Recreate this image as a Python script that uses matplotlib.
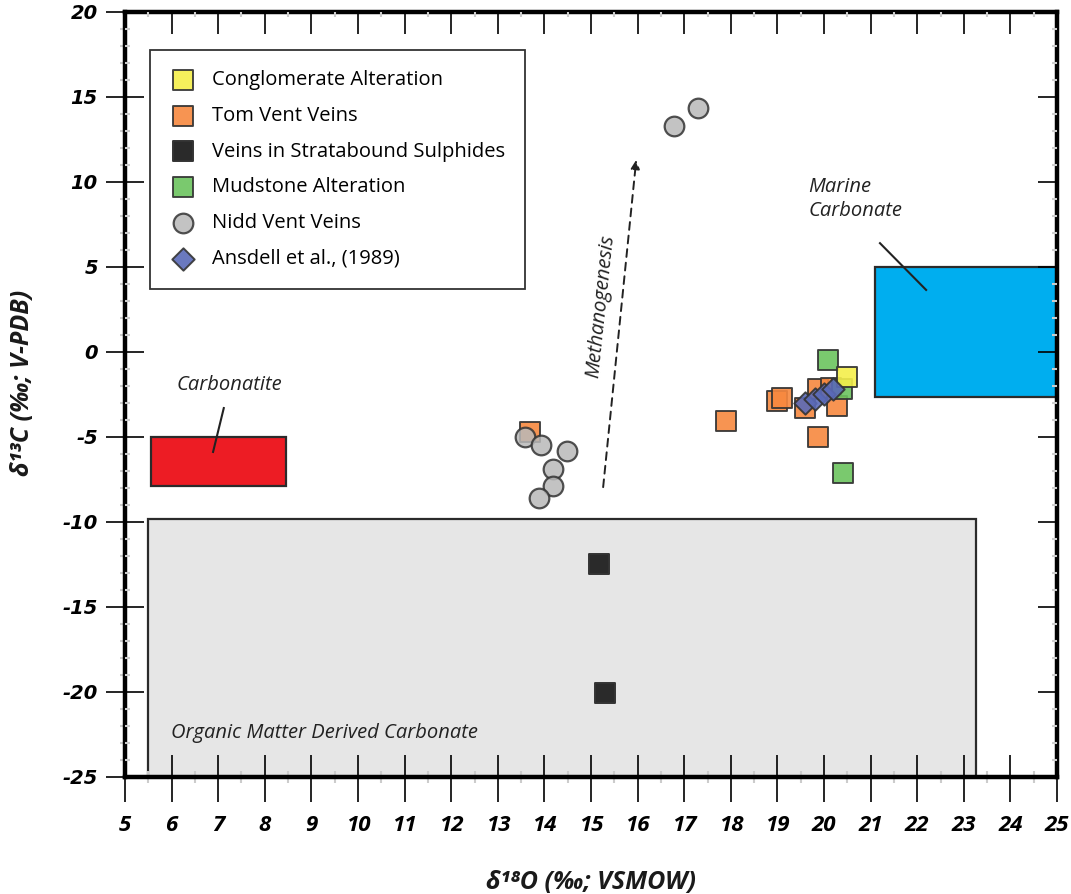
import numpy as np
import matplotlib.pyplot as plt
from matplotlib.patches import Rectangle
from matplotlib.ticker import MultipleLocator

# data
cong_x = [20.5]
cong_y = [-1.5]

tom_x = [13.7, 17.9, 19.0, 19.1, 19.6, 19.87, 19.87, 20.15, 20.28]
tom_y = [-4.7, -4.05, -2.9, -2.7, -3.3, -2.2, -5.0, -2.1, -3.2]

strata_x = [15.17, 15.3]
strata_y = [-12.45, -20.05]

mud_x = [20.09, 20.38, 20.4]
mud_y = [-0.5, -2.2, -7.1]

nidd_x = [16.78, 17.3, 13.58, 13.93, 14.48, 14.18, 14.18, 13.88]
nidd_y = [13.3, 14.35, -5.0, -5.5, -5.8, -6.9, -7.9, -8.6]

ansdell_x = [19.6, 19.8, 20.0, 20.2]
ansdell_y = [-3.0, -2.75, -2.5, -2.2]

# reference fields: (x0, x1, y0, y1)
organic_box = (5.5, 23.25, -25.0, -9.8)
carbonatite_box = (5.55, 8.45, -7.9, -5.0)
marine_box = (21.1, 25.0, -2.65, 5.0)

FONT = ['Open Sans', 'DejaVu Sans']
plt.rcParams['font.family'] = FONT
plt.rcParams['axes.unicode_minus'] = False

fig = plt.figure(figsize=(10.71, 8.94), dpi=100)
rect = [0.1167, 0.1309, 0.8703, 0.8557]
ax = fig.add_axes(rect)


def add_box(b, fc, z=1):
    x0, x1, y0, y1 = b
    ax.add_patch(Rectangle((x0, y0), x1 - x0, y1 - y0, facecolor=fc,
                           edgecolor='#2b2b2b', linewidth=1.6, zorder=z))


add_box(organic_box, '#e6e6e6')
add_box(carbonatite_box, '#ed1c24')
add_box(marine_box, '#00aeef')

ms = 190
ec = '#333333'
h_tom = ax.scatter(tom_x, tom_y, s=ms, marker='s', c='#f7883f', edgecolors=ec,
                   linewidths=1.4, alpha=0.9, zorder=3)
h_mud = ax.scatter(mud_x, mud_y, s=ms, marker='s', c='#6cc35e', edgecolors=ec,
                   linewidths=1.4, alpha=0.9, zorder=3)
h_cong = ax.scatter(cong_x, cong_y, s=ms, marker='s', c='#f4ef4a', edgecolors=ec,
                    linewidths=1.4, alpha=0.9, zorder=3)
h_strata = ax.scatter(strata_x, strata_y, s=ms, marker='s', c='#2a2a2a',
                      edgecolors=ec, linewidths=1.4, zorder=3)
h_nidd = ax.scatter(nidd_x, nidd_y, s=200, marker='o', c='#b9b9b9', edgecolors=ec,
                    linewidths=1.6, alpha=0.85, zorder=4)
h_ans = ax.scatter(ansdell_x, ansdell_y, s=130, marker='D', c='#5a6ab8',
                   edgecolors=ec, linewidths=1.4, alpha=0.9, zorder=5)

# annotations
itf = dict(family=FONT, style='italic', fontsize=14.5, color='#222222')
ax.text(7.23, -1.95, 'Carbonatite', ha='center', va='center', **itf)
ax.plot([7.12, 6.89], [-3.3, -5.88], color='#222222', lw=1.5, zorder=2)
ax.text(19.66, 9.0, 'Marine\nCarbonate', ha='left', va='center',
        linespacing=1.3, **itf)
ax.plot([21.2, 22.19], [6.4, 3.65], color='#222222', lw=1.5, zorder=2)
ax.text(5.98, -22.4, 'Organic Matter Derived Carbonate', ha='left',
        va='center', **itf)
ax.text(15.2, 2.7, 'Methanogenesis', ha='center', va='center',
        rotation=84, **itf)
ax.annotate('', xy=(15.97, 11.3), xytext=(15.26, -7.95),
            arrowprops=dict(arrowstyle='-|>', linestyle=(0, (4, 3)),
                            color='#222222', lw=1.4, mutation_scale=13,
                            shrinkA=0, shrinkB=0), zorder=2)

ax.set_xlim(5, 25)
ax.set_ylim(-25, 20)
ax.xaxis.set_major_locator(MultipleLocator(1))
ax.xaxis.set_minor_locator(MultipleLocator(0.5))
ax.yaxis.set_major_locator(MultipleLocator(5))
ax.yaxis.set_minor_locator(MultipleLocator(1))

for sp in ax.spines.values():
    sp.set_linewidth(3.2)
    sp.set_zorder(6)

# bottom tick labels from the axis, tick marks drawn below as lines
ax.tick_params(axis='x', which='both', bottom=False, pad=24, labelsize=16)
ax.tick_params(axis='y', which='major', direction='out', length=13.5, width=1.2,
               pad=6, labelsize=14)
ax.tick_params(axis='y', which='minor', direction='out', length=3.5, width=1.5,
               color='#cccccc')
for lab in ax.get_xticklabels():
    lab.set_fontweight('bold')
    lab.set_fontstyle('italic')
for lab in ax.get_yticklabels():
    lab.set_family(['DejaVu Sans'])
    lab.set_fontweight('bold')
    lab.set_fontstyle('italic')

xmaj = [v for v in ax.get_xticks() if 5 <= v <= 25]
xmin = [v for v in ax.xaxis.get_minorticklocs() if 5 <= v <= 25]
xt = ax.get_xaxis_transform()
ax.vlines(xmaj, -0.033, 0.029, transform=xt, colors='black', lw=1.2,
          clip_on=False, zorder=5.5)
ax.vlines(xmin, -0.0075, 0.0075, transform=xt, colors='#cccccc', lw=1.5,
          clip_on=False, zorder=5.5)

# inner ticks on top / left / right from an overlay axes
ov = fig.add_axes(rect, sharex=ax, sharey=ax, frameon=False)
ov.patch.set_visible(False)
ov.tick_params(which='both', direction='in', bottom=False, top=True, left=True,
               right=True, labelbottom=False, labelleft=False)
ov.tick_params(axis='x', which='major', length=16, width=1.2)
ov.tick_params(axis='y', which='major', length=13.5, width=1.2)
ov.tick_params(which='minor', length=3.6, width=1.5, color='#cccccc')

lblf = dict(family=FONT, fontsize=18, fontweight='bold', style='italic',
            color='#1a1a1a')
ax.set_xlabel('δ\u00b9\u2078O (\u2030; VSMOW)', labelpad=24, **lblf)
ax.set_ylabel('δ\u00b9\u00b3C (\u2030; V-PDB)', **lblf)
ax.yaxis.set_label_coords(-0.097, 0.515)

leg = ax.legend([h_cong, h_tom, h_strata, h_mud, h_nidd, h_ans],
                ['Conglomerate Alteration', 'Tom Vent Veins',
                 'Veins in Stratabound Sulphides', 'Mudstone Alteration',
                 'Nidd Vent Veins', 'Ansdell et al., (1989)'],
                loc='upper left', bbox_to_anchor=(0.027, 0.950), borderaxespad=0,
                fancybox=False, edgecolor='#333333', framealpha=1,
                prop={'family': FONT, 'size': 14.5}, labelspacing=0.78,
                handletextpad=0.75, borderpad=1.0, handlelength=1.3,
                scatterpoints=1)
leg.get_frame().set_linewidth(1.3)
leg.set_zorder(7)

fig.savefig('out.png', dpi=100)
